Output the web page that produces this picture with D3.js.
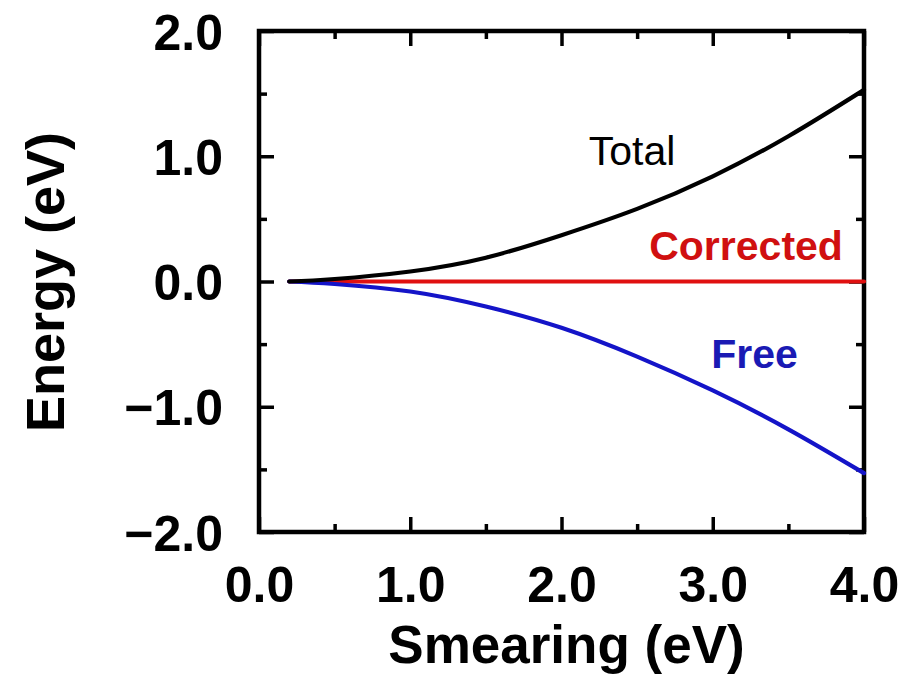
<!DOCTYPE html>
<html><head><meta charset="utf-8">
<script src="https://cdn.jsdelivr.net/npm/d3@7"></script>
<style>body{margin:0;background:#fff;} svg{display:block;}</style>
</head><body>
<svg id="c" width="905" height="681"></svg>
<script>
const smearing = [0.2, 0.5, 1.0, 1.5, 2.0, 2.5, 3.0, 3.5, 4.0];
const totalE   = [0, 0.02, 0.08, 0.19, 0.37, 0.58, 0.84, 1.16, 1.53];
const freeE    = [0, -0.02, -0.08, -0.20, -0.37, -0.60, -0.87, -1.18, -1.53];
const correctedE = [0, 0, 0, 0, 0, 0, 0, 0, 0];
const xTicks = [0, 1, 2, 3, 4];
const yTicks = [-2, -1, 0, 1, 2];
const xMinor = [0.5, 1.5, 2.5, 3.5];
const yMinor = [-1.5, -0.5, 0.5, 1.5];
const seriesLabels = ["Total", "Corrected", "Free"];

const svg = d3.select("#c");
const L = 259, R = 864, T = 31, B = 532;
const x = d3.scaleLinear().domain([0, 4]).range([L, R]);
const y = d3.scaleLinear().domain([-2, 2]).range([B, T]);
const font = "'Liberation Sans', Arial, sans-serif";
const fmt = d => (d < 0 ? "\u2212" : "") + Math.abs(d).toFixed(1);

function axisG(axis, tx, ty) {
  const g = svg.append("g").attr("transform", `translate(${tx},${ty})`).call(axis);
  g.select(".domain").remove();
  g.selectAll("line").attr("stroke", "#000").attr("stroke-width", 3.5);
  return g;
}
axisG(d3.axisBottom(x).tickValues(xTicks).tickSize(-15).tickFormat(fmt), 0, B)
  .selectAll("text").attr("font-family", font).attr("font-weight", "bold")
  .attr("font-size", 50).attr("fill", "#000").attr("dy", "0.72em").attr("y", 34);
axisG(d3.axisBottom(x).tickValues(xMinor).tickSize(-8).tickFormat(""), 0, B);
axisG(d3.axisTop(x).tickValues(xTicks).tickSize(-15).tickFormat(""), 0, T);
axisG(d3.axisTop(x).tickValues(xMinor).tickSize(-8).tickFormat(""), 0, T);
axisG(d3.axisLeft(y).tickValues(yTicks).tickSize(-15).tickFormat(fmt), L, 0)
  .selectAll("text").attr("font-family", font).attr("font-weight", "bold")
  .attr("font-size", 50).attr("fill", "#000").attr("x", -36).attr("dy", "0.36em");
axisG(d3.axisLeft(y).tickValues(yMinor).tickSize(-8).tickFormat(""), L, 0);
axisG(d3.axisRight(y).tickValues(yTicks).tickSize(-15).tickFormat(""), R, 0);
axisG(d3.axisRight(y).tickValues(yMinor).tickSize(-8).tickFormat(""), R, 0);

svg.append("rect").attr("x", L).attr("y", T).attr("width", R - L).attr("height", B - T)
  .attr("fill", "none").attr("stroke", "#000").attr("stroke-width", 4.5);

const line = d3.line().x((d, i) => x(smearing[i])).y(d => y(d)).curve(d3.curveNatural);
const series = [
  {vals: correctedE, color: "#e01010"},
  {vals: freeE, color: "#1414c8"},
  {vals: totalE, color: "#000000"}
];
series.forEach(s => {
  svg.append("path").datum(s.vals).attr("d", line).attr("fill", "none")
    .attr("stroke", s.color).attr("stroke-width", 4.2).attr("stroke-linecap", "round");
});

const labelInfo = [
  {t: seriesLabels[0], x: 2.18, y: 0.93, c: "#000", w: "normal"},
  {t: seriesLabels[1], x: 2.58, y: 0.17, c: "#d01010", w: "bold"},
  {t: seriesLabels[2], x: 2.99, y: -0.69, c: "#1a1ab4", w: "bold"}
];
labelInfo.forEach(l => {
  svg.append("text").attr("x", x(l.x)).attr("y", y(l.y)).text(l.t)
    .attr("font-family", font).attr("font-size", 41).attr("font-weight", l.w).attr("fill", l.c);
});

svg.append("text").attr("x", (L + R) / 2 + 5).attr("y", 663).attr("text-anchor", "middle")
  .attr("font-family", font).attr("font-weight", "bold").attr("font-size", 53).text("Smearing (eV)");
svg.append("text").attr("transform", `translate(64,282) rotate(-90)`).attr("text-anchor", "middle")
  .attr("font-family", font).attr("font-weight", "bold").attr("font-size", 54).text("Energy (eV)");
</script>
</body></html>
